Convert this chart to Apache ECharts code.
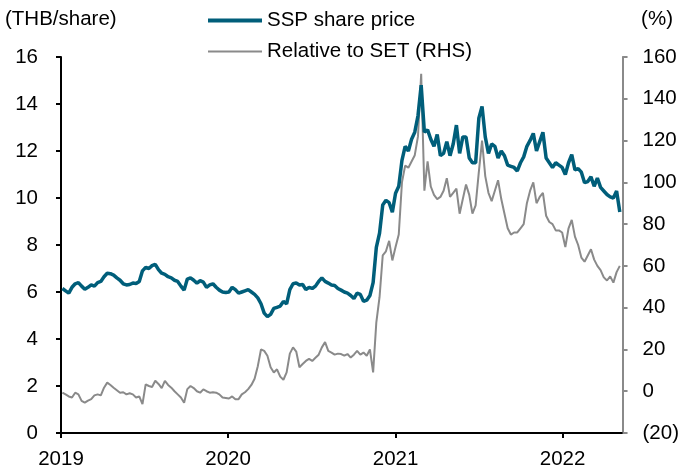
<!DOCTYPE html>
<html>
<head>
<meta charset="utf-8">
<script src="https://cdn.jsdelivr.net/npm/echarts@6/dist/echarts.min.js"></script>
<style>
  html, body { margin: 0; padding: 0; background: #fff; }
  #chart { width: 682px; height: 474px; }
</style>
</head>
<body>
<div id="chart"></div>
<script>
// weekly observations, first Friday of 2019 onwards
const startDate = '2019-01-04';

const sharePrice = [
  // 2019
  6.15, 6.05, 5.95, 6.2, 6.35, 6.4, 6.25, 6.12, 6.2, 6.3,
  6.25, 6.4, 6.45, 6.65, 6.8, 6.78, 6.72, 6.6, 6.5, 6.35,
  6.3, 6.32, 6.38, 6.36, 6.45, 6.9, 7.05, 7.0, 7.12, 7.18,
  6.95, 6.8, 6.75, 6.65, 6.6, 6.5, 6.45, 6.25, 6.08, 6.55,
  6.6, 6.5, 6.38, 6.48, 6.42, 6.2, 6.3, 6.35, 6.2, 6.08,
  6.0, 5.98,
  // 2020
  6.0, 6.2, 6.1, 5.95, 6.0, 6.05, 6.1, 6.0, 5.9, 5.75,
  5.5, 5.1, 4.95, 5.05, 5.3, 5.35, 5.4, 5.6, 5.5, 6.1,
  6.35, 6.38, 6.3, 6.32, 6.1, 6.2, 6.15, 6.25, 6.45, 6.6,
  6.45, 6.38, 6.3, 6.28, 6.15, 6.08, 6.0, 5.95, 5.85, 5.72,
  5.95, 5.9, 5.6, 5.65, 5.85, 6.4, 7.9, 8.5, 9.7, 9.9,
  9.8, 9.4,
  // 2021
  10.2, 10.5, 11.6, 12.2, 12.0, 12.5, 12.8, 13.5, 14.8, 12.8,
  12.9, 12.5, 12.2, 12.7, 11.8, 11.9, 12.4, 11.8, 12.3, 13.1,
  11.9, 12.6, 12.6, 11.7, 11.5, 11.5, 13.4, 13.9, 12.6, 11.9,
  12.3, 12.2, 11.7, 12.0, 11.8, 11.4, 11.35, 11.3, 11.15, 11.5,
  11.75, 12.2, 12.45, 12.75, 12.0, 12.4, 12.8, 11.7, 11.5, 11.3,
  11.5, 11.4, 11.3,
  // 2022
  11.0, 11.5, 11.85, 11.2, 11.25, 11.1, 10.65, 10.7, 10.9, 10.5,
  10.85, 10.45, 10.3, 10.15, 10.05, 10.0, 10.3, 9.4
];

const relativeToSet = [
  // 2019
  -0.7, -1.5, -2.5, -3, -0.7, -1.5, -4.6, -5.5, -4.5, -3.8,
  -2, -1.5, -2, 1.7, 4.1, 3, 1.7, 0.5, -0.7, -0.5,
  -1.5, -1, -1.5, -3, -2.5, -6.2, 3.3, 2.5, 2, 5,
  3.5, 1.5, 5, 3, 1.7, 0, -1.5, -3, -5.5, 1,
  2.5, 1.5, 0, -0.7, 0.9, 0, -0.7, -0.5, -0.7, -1.5,
  -3, -3.2,
  // 2020
  -3.5, -2.5, -3.8, -3.8, -1.5, -0.5, 1, 3, 6, 12,
  20, 19.3, 17, 11.5, 9, 10.5, 7, 5.5, 9, 18,
  21, 19, 11.5, 13, 14.5, 15.5, 14.5, 16, 17.5, 21,
  23.5, 19.3, 18.5, 17.5, 18, 17.8, 17, 17.8, 16.1, 17.5,
  19.3, 17.5, 18.5, 17, 20, 9, 33, 45, 65, 67,
  72, 62.6,
  // 2021
  69, 75, 100, 108, 107, 110, 113, 122, 152, 96,
  110, 98, 94, 92, 93, 96, 102, 93, 95, 97,
  85, 92, 99, 94, 85, 89, 105, 120, 103, 95,
  91, 96, 101, 92, 85, 78, 75, 76, 76, 78,
  80, 90, 96, 100, 90, 93, 95, 84, 81, 80,
  77, 77, 76,
  // 2022
  69, 78, 82, 74, 70, 64, 62, 65, 68, 63,
  60, 58, 54.5, 53, 55, 52, 57, 60
];

const leftTicks = { min: 0, max: 16, interval: 2 };
const rightTicks = { min: -20, max: 160, interval: 20 };

const DAY = 86400000;
const t0 = new Date(startDate + 'T00:00:00Z').getTime();
const dates = sharePrice.map((_, i) => t0 + i * 7 * DAY);

const font = 'Liberation Sans, Arial, sans-serif';
const fs = 20.5;
const teal = '#005e7a';
const grey = '#8a8a8a';

const chart = echarts.init(document.getElementById('chart'));
const option = {
    animation: false,
    textStyle: { fontFamily: font, color: '#000' },
    grid: { left: 61, right: 59, top: 57, bottom: 41 },
    legend: {
        orient: 'vertical',
        left: 203,
        top: 5,
        itemWidth: 54,
        itemHeight: 14,
        itemGap: 10,
        textStyle: { fontFamily: font, fontSize: fs, color: '#000' },
        data: [
            { name: 'SSP share price', icon: 'path://M0,0M0,5L54,5L54,9L0,9ZM54,14', itemStyle: { color: teal } },
            { name: 'Relative to SET (RHS)', icon: 'path://M0,0M0,6L54,6L54,8L0,8ZM54,14', itemStyle: { color: grey } }
        ]
    },
    graphic: [
        { type: 'text', left: 5, top: 9, style: { text: '(THB/share)', font: fs + 'px ' + font, fill: '#000' } },
        { type: 'text', right: 9, top: 9, style: { text: '(%)', font: fs + 'px ' + font, fill: '#000' } }
    ],
    xAxis: {
        type: 'time',
        min: '2019-01-01',
        max: '2022-05-12',
        minInterval: 365 * DAY,
        splitLine: { show: false },
        axisLine: { lineStyle: { color: '#000', width: 2 } },
        axisTick: { show: true, length: 5, lineStyle: { color: '#000', width: 2 } },
        axisLabel: { formatter: '{yyyy}', fontSize: fs, color: '#000', fontFamily: font, margin: 16 }
    },
    yAxis: [
        {
            type: 'value',
            min: leftTicks.min,
            max: leftTicks.max,
            interval: leftTicks.interval,
            splitLine: { show: false },
            axisLine: { show: true, lineStyle: { color: '#000', width: 2 } },
            axisTick: { show: true, length: 5, lineStyle: { color: '#000', width: 2 } },
            axisLabel: { fontSize: fs, color: '#000', fontFamily: font, margin: 23 }
        },
        {
            type: 'value',
            min: rightTicks.min,
            max: rightTicks.max,
            interval: rightTicks.interval,
            splitLine: { show: false },
            axisLine: { show: true, lineStyle: { color: grey, width: 2 } },
            axisTick: { show: true, length: 5, lineStyle: { color: grey, width: 2 } },
            axisLabel: {
                fontSize: fs, color: '#000', fontFamily: font, margin: 20,
                formatter: v => (v < 0 ? '(' + Math.abs(v) + ')' : String(v))
            }
        }
    ],
    series: [
        {
            name: 'Relative to SET (RHS)',
            type: 'line',
            yAxisIndex: 1,
            symbol: 'none',
            z: 2,
            lineStyle: { color: grey, width: 2 },
            itemStyle: { color: grey },
            data: dates.map((d, i) => [d, relativeToSet[i]])
        },
        {
            name: 'SSP share price',
            type: 'line',
            yAxisIndex: 0,
            symbol: 'none',
            z: 3,
            lineStyle: { color: teal, width: 3.5 },
            itemStyle: { color: teal },
            data: dates.map((d, i) => [d, sharePrice[i]])
        }
    ]
};
chart.setOption(option);
window.addEventListener('resize', () => chart.resize());
</script>
</body>
</html>
